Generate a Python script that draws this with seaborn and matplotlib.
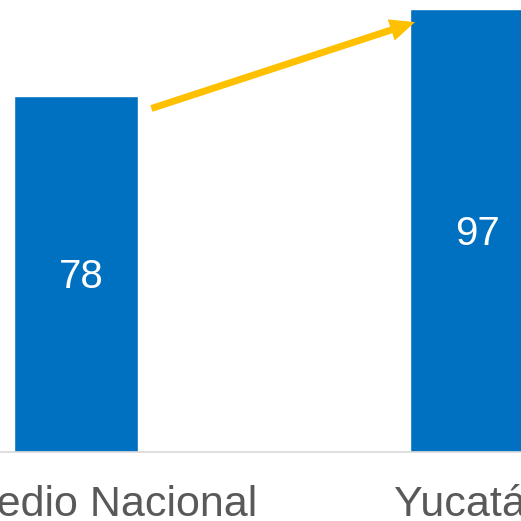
import matplotlib
matplotlib.use("Agg")
import matplotlib.pyplot as plt
import seaborn as sns
import pandas as pd

categories = ["Promedio Nacional", "Yucatán"]
values = [78, 97]

bar_color = "#0070C0"
arrow_color = "#FFC000"
text_grey = "#595959"

sns.set_theme(style="white")
plt.rcParams["font.family"] = ["Liberation Sans", "DejaVu Sans"]

df = pd.DataFrame({"cat": categories, "val": values})

fig = plt.figure(figsize=(5.21, 5.21), dpi=100)
# axes span: full width, from top down to y=452px
ax = fig.add_axes([0, 69 / 521, 1, 452 / 521])

sns.barplot(data=df, x="cat", y="val", color=bar_color, saturation=1,
            width=0.313, ax=ax)

ax.set_xlim(-0.191, 1.1234)
ax.set_ylim(0, 98.95)

for i, v in enumerate(values):
    ax.annotate(str(v), xy=(i, v / 2), xytext=(4, -2.5), textcoords="offset points",
                ha="center", va="center", color="white", fontsize=29)

# growth arrow from first bar to second bar
ax.annotate("", xy=(0.856, values[1] - 2.9), xytext=(0.191, values[0] - 2.8),
            arrowprops=dict(width=5, headwidth=16, headlength=18, shrink=0,
                            color=arrow_color, lw=0),
            annotation_clip=False)

for s in ["top", "left", "right"]:
    ax.spines[s].set_visible(False)
ax.spines["bottom"].set_color("#D9D9D9")
ax.spines["bottom"].set_linewidth(1.2)
ax.set_yticks([])
ax.set_xlabel("")
ax.set_ylabel("")
ax.tick_params(axis="x", length=0, pad=24, labelsize=31, labelcolor=text_grey)

fig.savefig("out.png", dpi=100)
